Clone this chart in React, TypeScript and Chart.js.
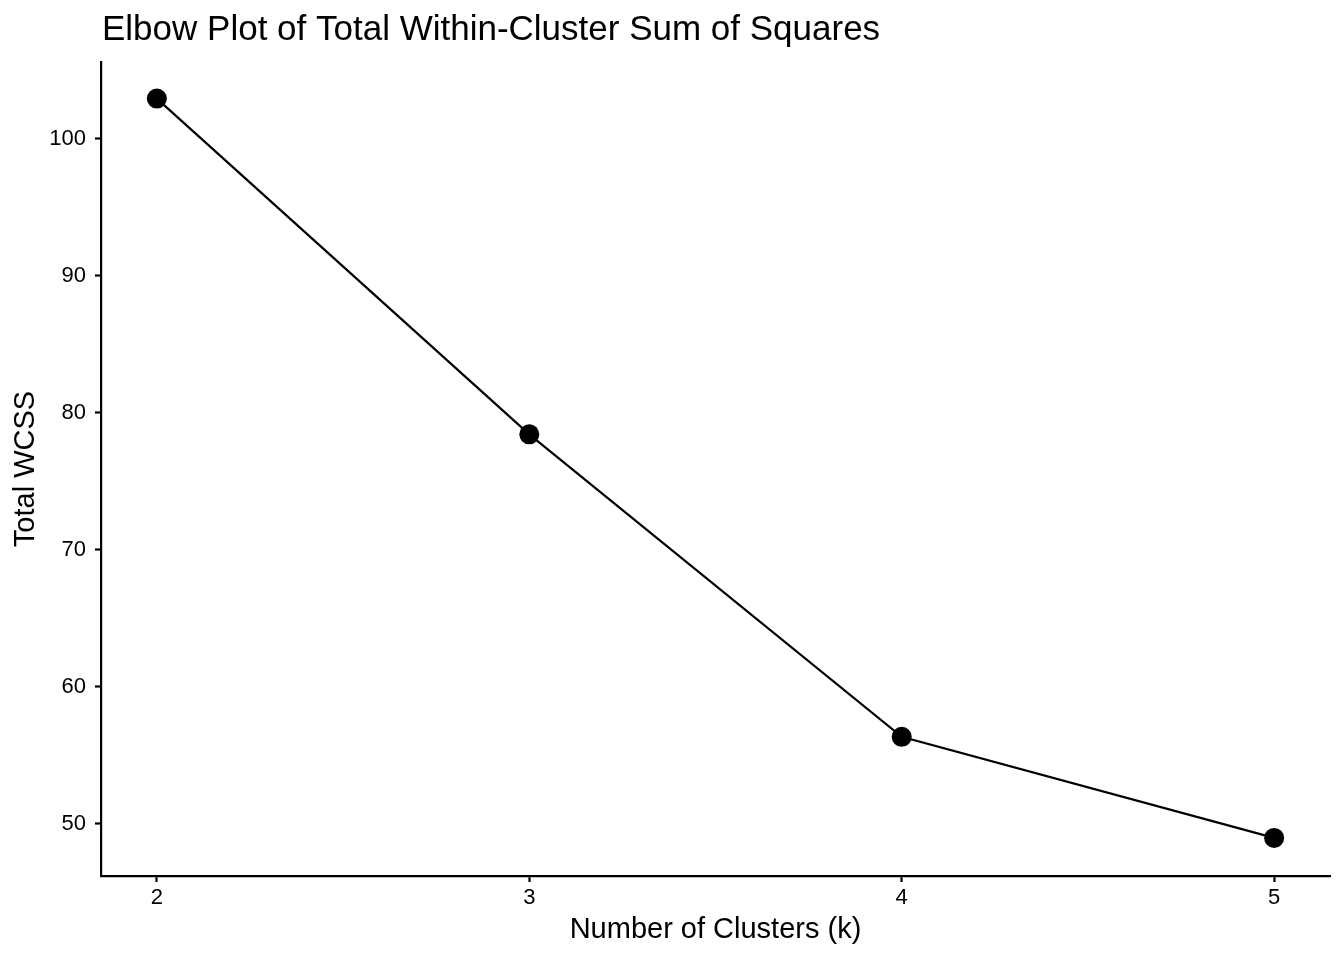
import React, { useEffect, useRef } from "react";
import { Chart, registerables } from "chart.js";

Chart.register(...registerables);

const titleText = "Elbow Plot of Total Within-Cluster Sum of Squares";
const xTitle = "Number of Clusters (k)";
const yTitle = "Total WCSS";
const clusters = [2, 3, 4, 5];
const wcss = [102.95, 78.44, 56.36, 48.98];
const xTicks = [2, 3, 4, 5];
const yTicks = [50, 60, 70, 80, 90, 100];

const FONT = "'Liberation Sans', Arial, Helvetica, sans-serif";

export default function App() {
  const ref = useRef<HTMLCanvasElement | null>(null);
  useEffect(() => {
    document.body.style.margin = "0";
    const canvas = ref.current!;
    const titlePlugin = {
      id: "leftTitle",
      afterDraw(chart: any) {
        const ctx = chart.ctx;
        ctx.save();
        ctx.fillStyle = "#000";
        ctx.font = `35px ${FONT}`;
        ctx.textBaseline = "alphabetic";
        ctx.textAlign = "left";
        ctx.fillText(titleText, chart.chartArea.left + 1, 40);
        ctx.restore();
      },
    };
    const chart = new Chart(canvas, {
      type: "line",
      data: {
        datasets: [
          {
            data: clusters.map((c, i) => ({ x: c, y: wcss[i] })),
            borderColor: "#000",
            backgroundColor: "#000",
            borderWidth: 2.2,
            pointRadius: 10,
            pointHoverRadius: 10,
            pointBackgroundColor: "#000",
            pointBorderColor: "#000",
            pointBorderWidth: 0,
            tension: 0,
          },
        ],
      },
      options: {
        animation: false,
        responsive: false,
        maintainAspectRatio: false,
        layout: { padding: { top: 62, right: 14, left: 0, bottom: 0 } },
        plugins: {
          legend: { display: false },
          tooltip: { enabled: false },
          title: { display: false },
        },
        scales: {
          x: {
            type: "linear",
            min: 1.85,
            max: 5.15,
            afterBuildTicks(scale: any) {
              scale.ticks = xTicks.map((v) => ({ value: v }));
            },
            afterFit(scale: any) {
              scale.height = 84;
            },
            border: { display: true, color: "#000", width: 2.2 },
            grid: {
              display: true,
              drawOnChartArea: false,
              drawTicks: true,
              tickLength: 6,
              tickColor: "#000",
              tickWidth: 2.2,
            },
            ticks: {
              color: "#000",
              font: { family: FONT, size: 22 },
              padding: 3,
              maxRotation: 0,
            },
            title: {
              display: true,
              text: xTitle,
              color: "#000",
              font: { family: FONT, size: 29 },
              padding: { top: 0, bottom: 13 },
            },
          },
          y: {
            type: "linear",
            min: 46.2,
            max: 105.62,
            afterBuildTicks(scale: any) {
              scale.ticks = yTicks.map((v) => ({ value: v }));
            },
            afterFit(scale: any) {
              scale.width = 101;
            },
            border: { display: true, color: "#000", width: 2.2 },
            grid: {
              display: true,
              drawOnChartArea: false,
              drawTicks: true,
              tickLength: 6,
              tickColor: "#000",
              tickWidth: 2.2,
            },
            ticks: {
              color: "#000",
              font: { family: FONT, size: 22 },
              padding: 9,
            },
            title: {
              display: true,
              text: yTitle,
              color: "#000",
              font: { family: FONT, size: 29 },
              padding: { top: 9, bottom: 0 },
            },
          },
        },
      },
      plugins: [titlePlugin],
    } as any);
    return () => chart.destroy();
  }, []);
  return (
    <div style={{ position: "absolute", left: 0, top: 0, width: 1344, height: 960, background: "#fff" }}>
      <canvas ref={ref} width={1344} height={960} style={{ width: 1344, height: 960 }} />
    </div>
  );
}
